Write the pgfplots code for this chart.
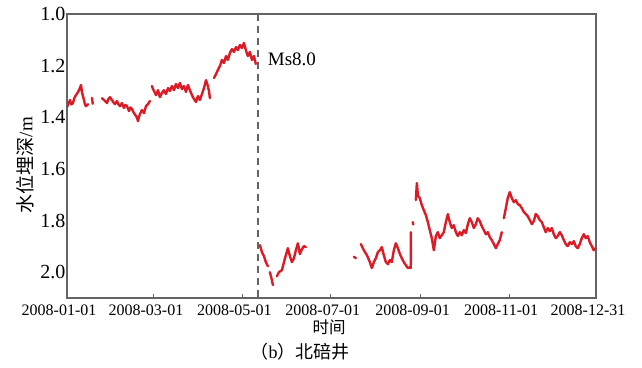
\documentclass[border=0pt]{standalone}
\usepackage{pgfplots}
\pgfplotsset{compat=1.18}
\usepackage{pgfplotstable}
\usepackage{fontspec}
\setmainfont{Liberation Serif}
\newfontfamily\cjk{Noto Sans CJK SC}
\definecolor{wred}{RGB}{218,28,38}
\definecolor{fgray}{RGB}{100,100,100}

\pgfplotstableread{
d v
0 1.360
1.0 1.348
2.1 1.333
3.0 1.350
4.1 1.345
5.1 1.325
6.2 1.314
7.3 1.305
8.3 1.295
9.0 1.285
9.7 1.275
10.3 1.302
11.0 1.318
11.7 1.333
12.4 1.350
13.1 1.357
14.5 1.349
15.2 nan
17.2 1.325
17.8 1.348
18.5 nan
24.1 1.326
25.5 1.333
26.5 1.338
27.6 1.345
28.6 1.330
29.7 1.322
31.0 1.333
32.0 1.342
33.1 1.349
34.5 1.337
35.5 1.350
36.6 1.357
37.9 1.345
39.3 1.364
40.3 1.352
41.4 1.357
42.8 1.376
43.8 1.362
44.8 1.368
46.2 1.384
47.6 1.395
48.3 1.402
49.0 1.415
49.6 1.400
50.3 1.388
51.7 1.372
53.1 1.384
54.5 1.357
55.9 1.349
57.2 1.337
58.0 nan
58.6 1.279
59.3 1.290
60.0 1.298
61.4 1.314
62.8 1.295
64.1 1.322
65.5 1.306
66.9 1.295
68.3 1.310
69.7 1.287
71.0 1.298
72.4 1.279
73.8 1.295
75.2 1.271
76.6 1.287
77.9 1.267
79.3 1.291
80.7 1.279
82.1 1.302
83.4 1.275
84.8 1.295
86.2 1.314
87.6 1.329
89.0 1.341
90.3 1.318
91.7 1.333
93.1 1.310
94.5 1.287
95.9 1.256
97.2 1.279
98.0 1.300
98.6 1.326
100.0 nan
101.4 1.248
102.8 1.233
104.1 1.217
105.5 1.202
106.9 1.178
108.3 1.190
109.7 1.163
111.0 1.178
112.4 1.151
113.8 1.136
115.2 1.147
116.6 1.128
117.9 1.140
119.3 1.120
120.7 1.132
122.1 1.112
123.4 1.140
124.8 1.163
126.2 1.147
127.6 1.178
129.0 1.163
130.3 1.194
131.0 nan
133.1 1.895
134.5 1.922
135.9 1.938
137.2 1.961
138.6 1.977
139.3 nan
140.0 2.000
141.4 2.031
142.1 2.050
143.5 nan
144.8 2.016
146.2 2.000
148.3 1.992
149.7 1.961
151.0 1.934
152.4 1.907
153.8 1.938
155.2 1.961
156.6 1.946
157.9 1.915
159.3 1.888
160.7 1.930
162.1 1.911
163.4 1.899
164.8 1.903
170.0 nan
198.0 1.940
199.3 1.946
200.5 nan
202.8 1.891
204.8 1.915
206.9 1.934
209.0 1.961
210.3 1.984
211.7 1.961
213.1 1.946
214.5 1.922
215.9 1.915
217.2 1.903
218.6 1.934
220.0 1.961
221.4 1.969
222.8 1.953
224.1 1.961
225.5 1.915
226.9 1.888
228.3 1.907
229.7 1.930
231.0 1.946
232.4 1.961
233.8 1.973
235.2 1.984
236.6 1.981
237.2 1.984
237.3 1.845
237.9 nan
238.6 1.806
238.9 1.815
239.8 nan
240.7 1.721
241.4 1.655
242.1 1.702
243.4 1.713
244.8 1.740
246.2 1.760
247.6 1.779
249.0 1.806
250.3 1.837
251.7 1.868
253.1 1.915
254.5 1.860
255.9 1.845
257.2 1.868
258.6 1.857
260.0 1.845
261.4 1.806
262.8 1.775
264.1 1.806
265.5 1.829
266.9 1.818
268.3 1.845
269.7 1.860
271.0 1.845
272.4 1.857
273.8 1.837
275.2 1.849
276.6 1.814
277.9 1.791
279.3 1.806
280.7 1.829
282.1 1.814
283.4 1.791
284.8 1.802
286.2 1.822
287.6 1.837
289.0 1.853
290.3 1.845
291.7 1.864
293.1 1.876
294.5 1.891
295.9 1.907
297.2 1.891
298.6 1.876
300.0 1.845
300.7 nan
301.4 1.791
302.8 1.752
304.1 1.713
305.5 1.690
306.9 1.713
308.3 1.729
309.7 1.721
311.0 1.736
312.4 1.740
313.8 1.752
315.2 1.767
316.6 1.775
317.9 1.783
319.3 1.798
320.7 1.814
322.1 1.802
323.4 1.775
324.8 1.783
326.2 1.798
327.6 1.806
329.0 1.826
330.3 1.845
331.7 1.829
333.1 1.841
334.5 1.829
335.9 1.853
337.2 1.868
338.6 1.860
340.0 1.845
341.4 1.857
342.8 1.876
344.1 1.891
345.5 1.899
346.9 1.884
348.3 1.891
349.7 1.880
351.0 1.899
352.4 1.907
353.8 1.891
355.2 1.868
356.6 1.853
357.9 1.868
359.3 1.860
360.7 1.884
362.1 1.899
363.4 1.915
364.8 1.907
}\wl

\begin{document}
\begin{tikzpicture}
\useasboundingbox (0,0) rectangle (642pt,367pt);
\begin{axis}[
  at={(67pt,69pt)}, anchor=south west,
  scale only axis, width=529pt, height=284pt,
  xmin=0, xmax=365, ymin=1.0, ymax=2.1, y dir=reverse,
  axis line style={draw=fgray, line width=1.3pt},
  xtick={0,60,121,182,244,305,365},
  xticklabels={2008-01-01,2008-03-01,2008-05-01,2008-07-01,2008-09-01,2008-11-01,2008-12-31},
  xtick pos=bottom, xtick align=inside,
  major tick length=4pt,
  tick style={draw=fgray, line width=1pt},
  ytick={1.0,1.2,1.4,1.6,1.8,2.0},
  yticklabels={1.0,1.2,1.4,1.6,1.8,2.0},
  ytick style={draw=none},
  ytick pos=left,
  xticklabel style={font=\fontsize{16}{18}\selectfont, yshift=-3pt, xshift=-8pt},
  yticklabel style={font=\fontsize{20}{22}\selectfont, xshift=2pt},
  unbounded coords=jump,
  clip=true,
]
\addplot[wred, line width=2.4pt, line join=round, line cap=round] table[x=d, y=v] {\wl};
\draw[fgray, line width=2pt, dash pattern=on 7pt off 5pt] (axis cs:132,1.0) -- (axis cs:132,2.1);
\node[anchor=west, font=\fontsize{19}{21}\selectfont, inner sep=0pt] at (axis cs:138.5,1.174) {Ms8.0};
\end{axis}
\node[rotate=90, font=\fontsize{19}{21}\selectfont] at (25pt,202pt) {{\cjk 水位埋深}/m};
\node[font=\fontsize{16.5}{18}\selectfont] at (329pt,40pt) {\cjk 时间};
\node[font=\fontsize{18}{20}\selectfont] at (300pt,15pt) {{\cjk （}b{\cjk ）北碚井}};
\end{tikzpicture}
\end{document}
